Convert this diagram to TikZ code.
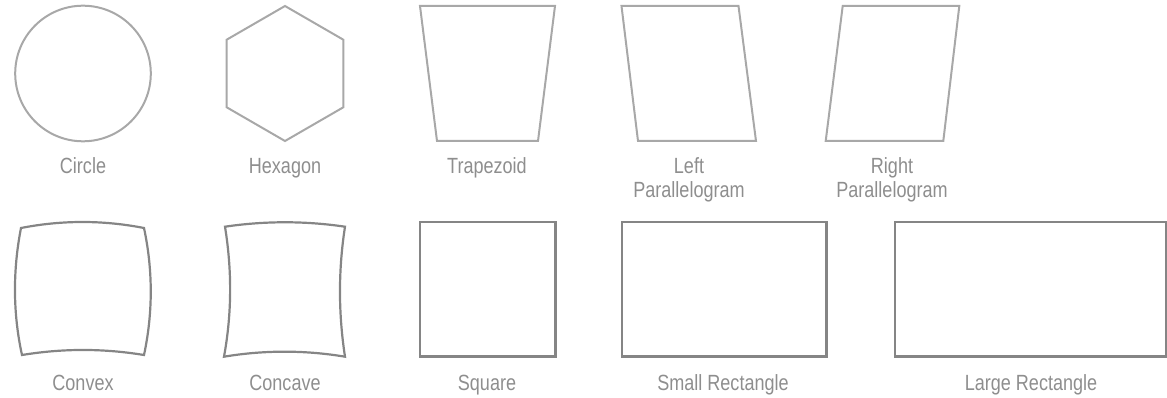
\documentclass[tikz,border=0pt]{standalone}
\usepackage{fontspec}
\setmainfont{Liberation Sans}[FakeStretch=0.82]
\definecolor{lightline}{HTML}{A8A8A8}
\definecolor{darkline}{HTML}{858585}
\definecolor{labelgray}{HTML}{8E8E8E}
\tikzset{
  topshape/.style={draw=lightline, line width=2pt, line join=miter},
  botshape/.style={draw=darkline, line width=2.2pt, line join=miter},
  lbl/.style={text=labelgray, font=\fontsize{22}{24}\selectfont, inner sep=0pt, anchor=base}
}
\begin{document}
\begin{tikzpicture}[x=1pt, y=-1pt]
\useasboundingbox (0,0) rectangle (1167,398);
% top row
\draw[topshape] (83,73.5) circle (67.8);
\draw[topshape] (285,6) -- (343.4,39.75) -- (343.4,107.25) -- (285,141) -- (226.6,107.25) -- (226.6,39.75) -- cycle;
\draw[topshape] (420,6) -- (555,6) -- (538,141) -- (437,141) -- cycle;
\draw[topshape] (621.5,6) -- (738.5,6) -- (756,141) -- (638,141) -- cycle;
\draw[topshape] (842.7,6) -- (959.3,6) -- (943.3,141) -- (825.7,141) -- cycle;
\node[lbl] (circ) at (83,173.5) {Circle};
\node[lbl] (hex) at (285,173.5) {Hexagon};
\node[lbl] (trap) at (487,173.5) {Trapezoid};
\node[lbl] (lp1) at (689,173.5) {Left};
\node[lbl] (lp2) at (689,197.5) {Parallelogram};
\node[lbl] (rp1) at (892,173.5) {Right};
\node[lbl] (rp2) at (892,197.5) {Parallelogram};
% bottom row
\draw[botshape] (21,228) .. controls (62,220) and (103,220) .. (144,228)
  .. controls (153,270) and (153,313) .. (144,355)
  .. controls (103,348.3) and (63,348.3) .. (22,355)
  .. controls (12.8,313) and (12.8,270) .. cycle;
\draw[botshape] (225,226.7) .. controls (265,220.8) and (305,220.8) .. (345,226.7)
  .. controls (338.3,270) and (338.3,313) .. (345,356.7)
  .. controls (305,350) and (264,350) .. (224,356.7)
  .. controls (232,313) and (232,270) .. cycle;
\draw[botshape] (420,222) rectangle (555.5,356.5);
\draw[botshape] (622,222) rectangle (826.5,356.5);
\draw[botshape] (895,222) rectangle (1166,356.5);
\node[lbl] (cvx) at (83,390) {Convex};
\node[lbl] (ccv) at (285,390) {Concave};
\node[lbl] (sq) at (487,390) {Square};
\node[lbl] (srect) at (723,390) {Small Rectangle};
\node[lbl] (lrect) at (1031,390) {Large Rectangle};
\end{tikzpicture}
\end{document}
